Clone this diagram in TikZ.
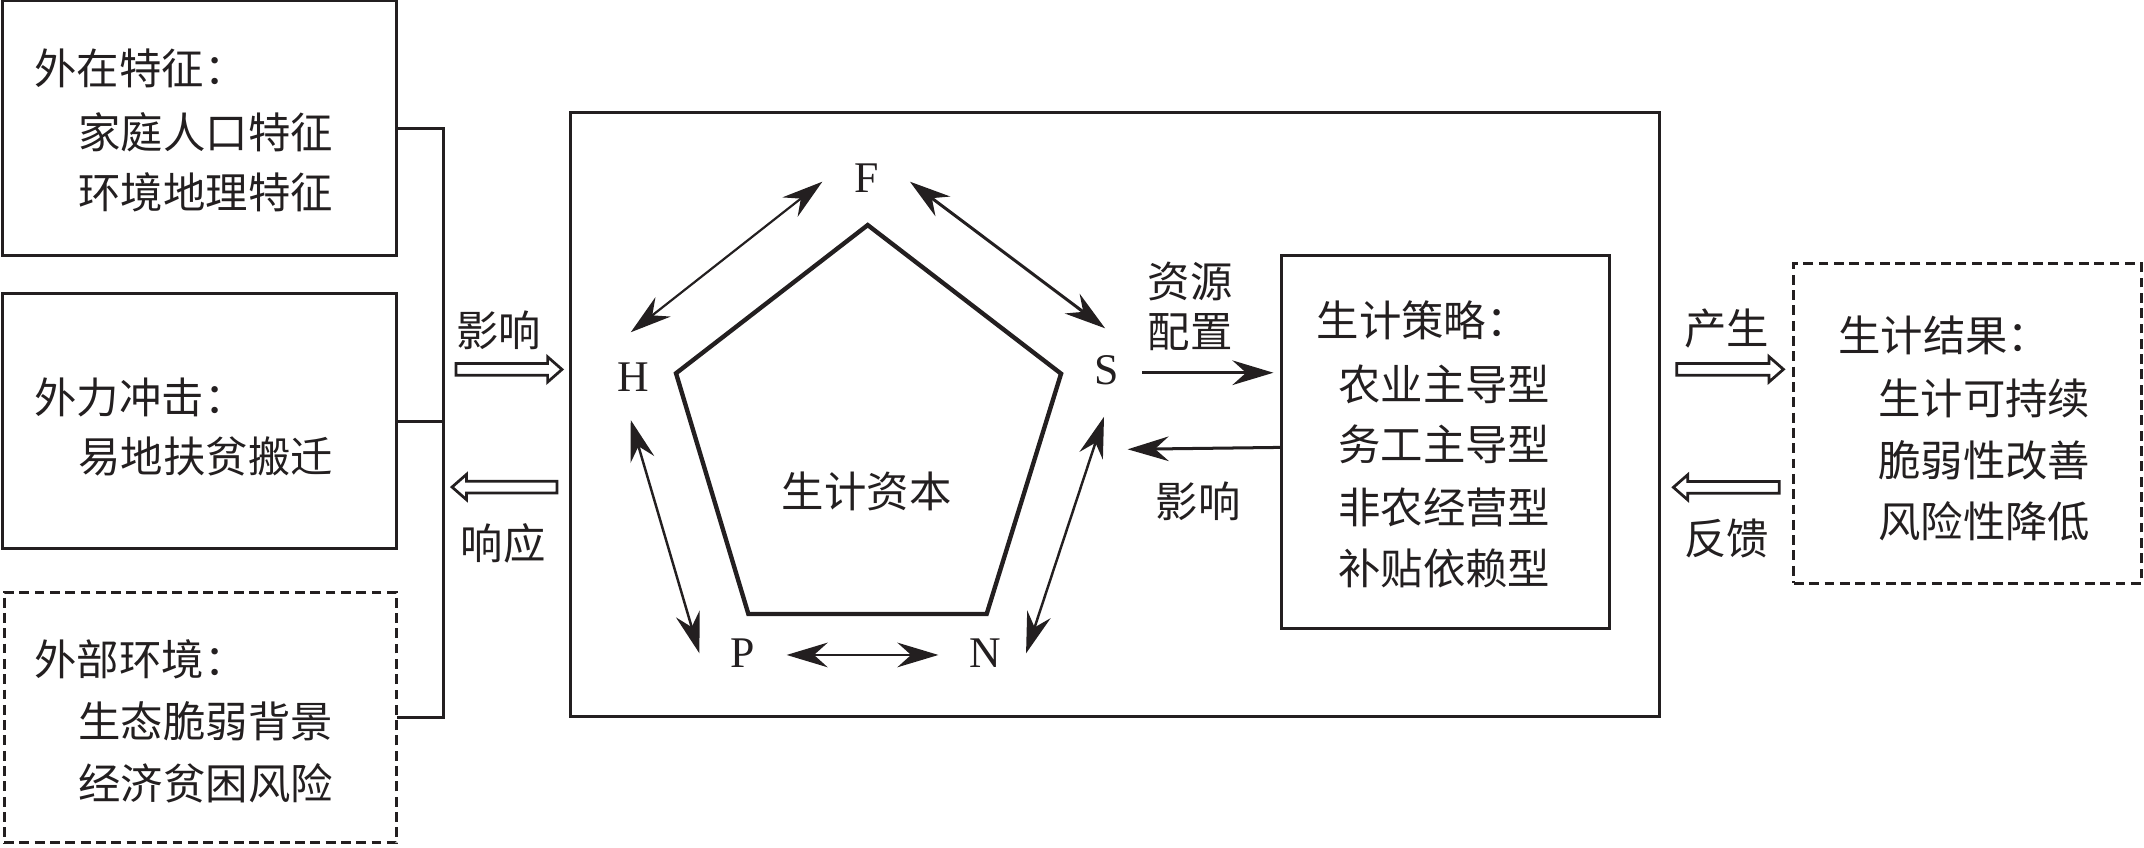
\documentclass[tikz,border=0pt]{standalone}
\usepackage{fontspec}
\setmainfont{Liberation Serif}
\newfontfamily\cjk{Noto Sans CJK SC}
\usetikzlibrary{arrows.meta}
\definecolor{ink}{RGB}{35,31,32}
\newcommand\hArrR[3]{\draw[hol] (#1,{#3-4.3}) -- ({#2-10.5},{#3-4.3}) -- ({#2-10.5},{#3-9.2}) -- (#2,#3) -- ({#2-10.5},{#3+9.2}) -- ({#2-10.5},{#3+4.3}) -- (#1,{#3+4.3}) -- cycle;}
\newcommand\hArrL[3]{\draw[hol] (#2,{#3-4.3}) -- ({#1+10.5},{#3-4.3}) -- ({#1+10.5},{#3-9.2}) -- (#1,#3) -- ({#1+10.5},{#3+9.2}) -- ({#1+10.5},{#3+4.3}) -- (#2,{#3+4.3}) -- cycle;}
\begin{document}
\begin{tikzpicture}[x=0.5pt,y=-0.5pt,
  every node/.style={inner sep=0pt, outer sep=0pt, text=ink},
  cn/.style={font=\cjk\fontsize{15.5pt}{18pt}\selectfont},
  lt/.style={font=\fontsize{16pt}{18pt}\selectfont},
  frame/.style={draw=ink, line width=1.1pt, rectangle},
  dframe/.style={draw=ink, line width=1.1pt, rectangle, dash pattern=on 3.6pt off 2pt},
  hol/.style={draw=ink, line width=1pt, fill=white},
  myhead/.style={line width=0.9pt, draw=ink},
  dbl/.style={myhead, {Stealth[length=15pt,width=9pt,inset=5pt]}-{Stealth[length=15pt,width=9pt,inset=5pt]}},
  sgl/.style={myhead, line width=1.1pt, -{Stealth[length=15pt,width=9pt,inset=5pt]}},
  pent/.style={draw=ink, line width=1.6pt, line join=miter}
]
\useasboundingbox (0,0) rectangle (1568,619.5);

% left boxes
\node[frame, minimum width=288.5*0.5pt, minimum height=186.5*0.5pt] (b1) at (145.75,93.75) {};
\node[frame, minimum width=288.5*0.5pt, minimum height=186*0.5pt] (b2) at (145.75,308) {};
\node[dframe, minimum width=287*0.5pt, minimum height=183.5*0.5pt] (b3) at (146.5,524.75) {};

\node[cn, anchor=west] (t11) at (25.2,50) {外在特征：};
\node[cn, anchor=west] (t12) at (57.4,96.8) {家庭人口特征};
\node[cn, anchor=west] (t13) at (57.4,140.3) {环境地理特征};
\node[cn, anchor=west] (t21) at (25.2,290.4) {外力冲击：};
\node[cn, anchor=west] (t22) at (57.4,333.9) {易地扶贫搬迁};
\node[cn, anchor=west] (t31) at (25.2,482) {外部环境：};
\node[cn, anchor=west] (t32) at (57.4,527.5) {生态脆弱背景};
\node[cn, anchor=west] (t33) at (57.4,573) {经济贫困风险};

% bracket
\coordinate (bt) at (324.7,93.75);
\coordinate (bm) at (324.7,308);
\coordinate (bb) at (324.7,524.75);
\draw[frame] (b1.east) -- (bt) -- (bb) -- (b3.east);
\draw[frame] (b2.east) -- (bm);

% left hollow arrows
\node[cn] (yx1) at (364.5,241.4) {影响};
\hArrR{333.5}{411}{270.2}
\hArrL{330.6}{407.4}{356.2}
\node[cn] (xy1) at (368,397.4) {响应};

% big box
\node[frame, minimum width=797*0.5pt, minimum height=442*0.5pt] (big) at (815.5,303) {};

% pentagon
\coordinate (pT) at (634.6,164.6);
\coordinate (pR) at (776,273.3);
\coordinate (pBR) at (721.6,449);
\coordinate (pBL) at (547.3,449);
\coordinate (pL) at (494.4,273);
\draw[pent] (pT) -- (pR) -- (pBR) -- (pBL) -- (pL) -- cycle;
\node[cn] (cap) at (633.9,359.6) {生计资本};

\node[lt] (F) at (633.9,130.6) {F};
\node[lt] (H) at (463.2,275.5) {H};
\node[lt] (S) at (809.4,271) {S};
\node[lt] (P) at (543.2,478) {P};
\node[lt] (N) at (720.4,478) {N};

\coordinate (fh1) at (601.4,132.9);
\coordinate (fh2) at (461.3,243);
\coordinate (fs1) at (665.5,132.9);
\coordinate (fs2) at (808.2,240.1);
\coordinate (hp1) at (461.3,307.2);
\coordinate (hp2) at (511.5,477.8);
\coordinate (sn1) at (807.4,304.8);
\coordinate (sn2) at (750.4,477.8);
\coordinate (pn1) at (575.3,479);
\coordinate (pn2) at (686.3,479);
\draw[dbl, line width=0.8pt] (fh1) -- (fh2);
\draw[dbl, line width=1.1pt] (fs1) -- (fs2);
\draw[dbl] (hp1) -- (hp2);
\draw[dbl] (sn1) -- (sn2);
\draw[dbl, line width=1pt] (pn1) -- (pn2);

% strategy box
\node[frame, minimum width=239.6*0.5pt, minimum height=273*0.5pt] (strat) at (1057.2,323) {};
\node[cn, anchor=west] (s0) at (963,234) {生计策略：};
\node[cn, anchor=west] (s1) at (978.8,281) {农业主导型};
\node[cn, anchor=west] (s2) at (978.8,325) {务工主导型};
\node[cn, anchor=west] (s3) at (978.8,371) {非农经营型};
\node[cn, anchor=west] (s4) at (978.8,416) {补贴依赖型};

\node[cn] (zy) at (870.3,206) {资源};
\node[cn] (pz) at (870.3,242.6) {配置};
\coordinate (sa1) at (835.5,272.6);
\coordinate (sa2) at (931.3,272.6);
\draw[sgl] (sa1) -- (sa2);
\coordinate (ra1) at (strat.west |- 0,327.2);
\coordinate (ra2) at (824.7,328.6);
\draw[sgl] (ra1) -- (ra2);
\node[cn] (yx2) at (876.4,366.9) {影响};

% right hollow arrows
\node[cn] (cs) at (1262.8,240.1) {产生};
\hArrR{1226.2}{1304.3}{270.1}
\hArrL{1223.8}{1301.3}{356.4}
\node[cn] (fk) at (1262.8,393.7) {反馈};

% result box
\node[dframe, minimum width=254*0.5pt, minimum height=234*0.5pt] (res) at (1439,309.6) {};
\node[cn, anchor=west] (r0) at (1344.5,245) {生计结果：};
\node[cn, anchor=west] (r1) at (1373.7,291.3) {生计可持续};
\node[cn, anchor=west] (r2) at (1373.7,336.4) {脆弱性改善};
\node[cn, anchor=west] (r3) at (1373.7,381.5) {风险性降低};
\end{tikzpicture}
\end{document}
